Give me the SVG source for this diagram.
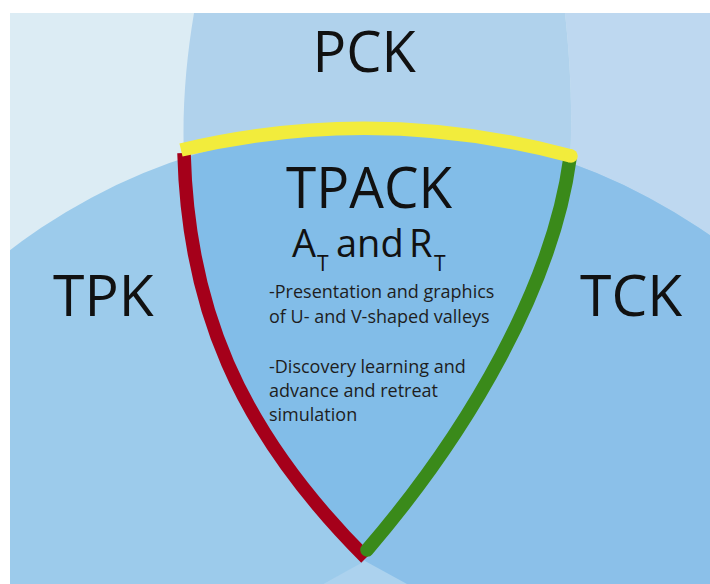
<svg xmlns="http://www.w3.org/2000/svg" width="710" height="584" viewBox="0 0 710 584">
  <defs>
    <clipPath id="clipT">
      <circle cx="370" cy="720" r="592"/>
    </clipPath>
    <style>
      .title { font-family: "Open Sans", "Noto Sans", "Liberation Sans", sans-serif; fill: #111; }
      .body { font-family: "Open Sans", "Noto Sans", "Liberation Sans", sans-serif; font-size: 18px; fill: #1e1e1e; }
      .edge { fill: none; stroke-width: 13.5; }
    </style>
  </defs>
  <rect width="710" height="584" fill="#ffffff"/>
  <g id="regions">
    <rect x="10" y="13" width="700" height="571" fill="#dcecf4"/>
    <path d="M565,13 C570,60 573,110 570,163 C553,285 470,430 367,550 L365,562 L323,584 L710,584 L710,13 Z" fill="#bed8f0"/>
    <path d="M194,13 C186,60 182,110 184,158 C188,308 236,428 366,558 L365,562 L367,550 C470,430 553,285 570,163 C573,110 570,60 565,13 Z" fill="#b0d2ec"/>
    <g clip-path="url(#clipT)">
      <rect x="10" y="13" width="700" height="571" fill="#9ccbeb"/>
      <path d="M565,13 C570,60 573,110 570,163 C553,285 470,430 367,550 L365,562 L323,584 L710,584 L710,13 Z" fill="#8bc0e9"/>
      <path d="M194,13 C186,60 182,110 184,158 C188,308 236,428 366,558 L365,562 L367,550 C470,430 553,285 570,163 C573,110 570,60 565,13 Z" fill="#82bde8"/>
      <path d="M365,561 L323,584 L407,584 Z" fill="#acd2ee"/>
    </g>
  </g>
  <g id="connectors">
    <path class="edge" d="M184,153 C188,304 236,428 366,558" stroke="#a5001a" stroke-linecap="butt"/>
    <path class="edge" d="M570,158 C553,285 470,430 367,550" stroke="#3a8a1a" stroke-linecap="round"/>
    <path class="edge" d="M181,150 Q376,103.7 571,156" stroke="#f2ec3c" stroke-linecap="butt"/>
    <circle cx="571" cy="156" r="6.75" fill="#f2ec3c"/>
  </g>
  <g id="PCK">
    <text class="title" x="312.5" y="72" font-size="56">PCK</text>
  </g>
  <g id="TPK">
    <text class="title" x="53" y="316" font-size="57">TPK</text>
  </g>
  <g id="TCK">
    <text class="title" x="580" y="316" font-size="57">TCK</text>
  </g>
  <g id="TPACK">
    <text class="title" x="286" y="208" font-size="57" textLength="166" lengthAdjust="spacingAndGlyphs">TPACK</text>
    <text class="title" font-size="38" y="257"><tspan x="292">A</tspan><tspan x="317" dy="14" font-size="21">T</tspan><tspan x="336" dy="-14">and</tspan><tspan x="409">R</tspan><tspan x="434" dy="14" font-size="21">T</tspan></text>
    <text class="body" x="269" y="298">-Presentation and graphics</text>
    <text class="body" x="269" y="323">of U- and V-shaped valleys</text>
    <text class="body" x="269" y="373">-Discovery learning and</text>
    <text class="body" x="269" y="397">advance and retreat</text>
    <text class="body" x="269" y="421">simulation</text>
  </g>
</svg>
